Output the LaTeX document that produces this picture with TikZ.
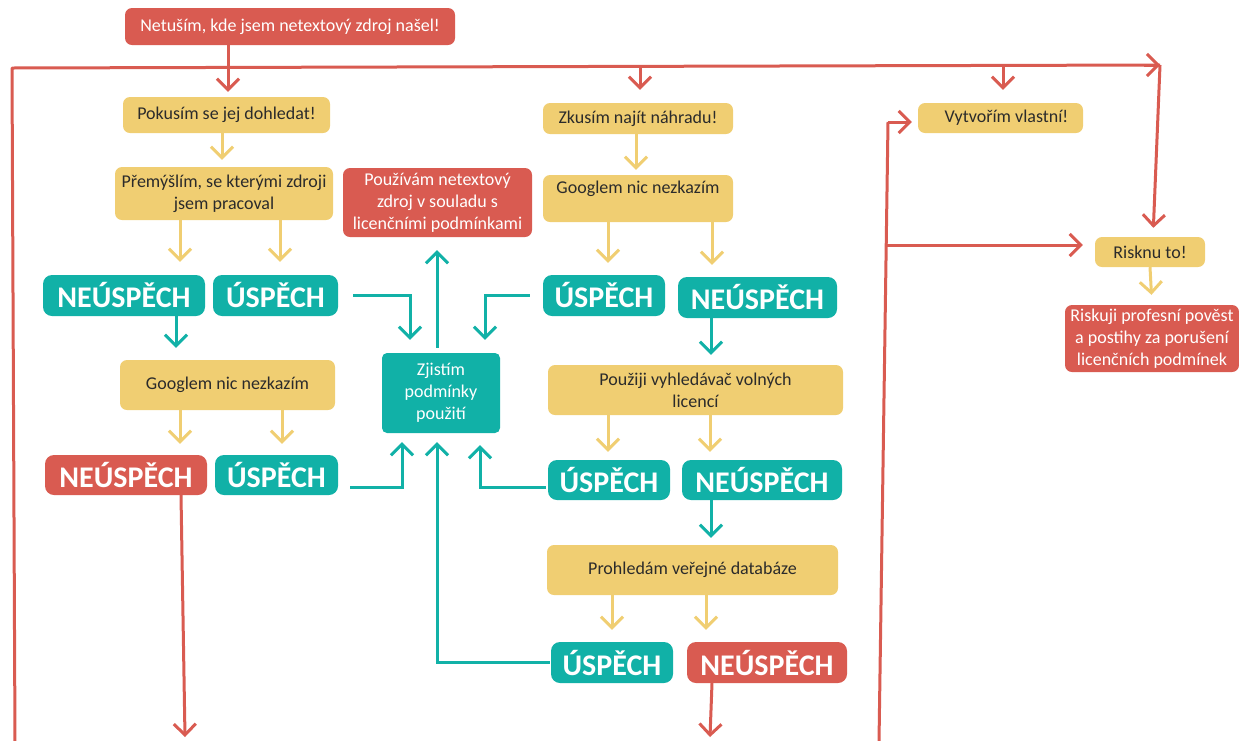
\documentclass[tikz,border=0pt]{standalone}
\usepackage{fontspec}
\setmainfont{Carlito}
\usetikzlibrary{arrows.meta,calc}
\definecolor{cr}{HTML}{D95B51}
\definecolor{cy}{HTML}{F0CE72}
\definecolor{ct}{HTML}{11B1A7}
\definecolor{ctx}{HTML}{2B2B2B}
\newcommand\bodyfont{\fontsize{18}{22}\selectfont}
\newcommand\labfont{\bfseries\fontsize{30}{32}\selectfont}
\tikzset{
  box/.style={rounded corners=7pt, inner sep=0pt, align=center, font=\bodyfont},
  ybox/.style={box, fill=cy, text=ctx},
  rbox/.style={box, fill=cr, text=white},
  tbox/.style={box, fill=ct, text=white},
  tlab/.style={rounded corners=9pt, inner sep=0pt, fill=ct, text=white, font=\labfont},
  rlab/.style={rounded corners=9pt, inner sep=0pt, fill=cr, text=white, font=\labfont},
  tipV/.style={-{Straight Barb[length=11pt,width=22pt]}},
  rline/.style={draw=cr, line width=3pt},
  rarr/.style={rline, tipV},
  yarr/.style={draw=cy, line width=3pt, tipV},
  tarr/.style={draw=ct, line width=3pt, tipV},
}
\begin{document}
\begin{tikzpicture}[x=1pt,y=-1pt]
\useasboundingbox (0,0) rectangle (1239,740);

% nodes
\node[rbox, minimum width=330, minimum height=37] (top) at (290,26.5) {Netuším, kde jsem netextový zdroj našel!};
\node[ybox, minimum width=207, minimum height=36] (pok) at (226.5,115) {Pokusím se jej dohledat!};
\node[ybox, minimum width=218, minimum height=53] (prem) at (224,193.5) {Přemýšlím, se kterými zdroji\\jsem pracoval};
\node[tlab, minimum width=162, minimum height=41] (neu1) at (124,295.5) {NEÚSPĚCH};
\node[tlab, minimum width=125, minimum height=41] (usp1) at (275.5,295.5) {ÚSPĚCH};
\node[ybox, minimum width=215, minimum height=50] (goo1) at (227.5,385) {Googlem nic nezkazím};
\node[rlab, minimum width=162, minimum height=40] (neu2) at (126,475) {NEÚSPĚCH};
\node[tlab, minimum width=123, minimum height=40] (usp2) at (276.5,475) {ÚSPĚCH};
\node[rbox, minimum width=189, minimum height=69] (pouz) at (437.5,202.5) {Používám netextový\\zdroj v souladu s\\licenčními podmínkami};
\node[tbox, minimum width=118, minimum height=80, rounded corners=5pt] (zji) at (441,393) {Zjistím\\podmínky\\použití};
\node[ybox, minimum width=190, minimum height=31] (zk) at (638,118.5) {Zkusím najít náhradu!};
\node[ybox, minimum width=190, minimum height=47] (goo2) at (638,198.5) {Googlem nic nezkazím\\\mbox{}};
\node[tlab, minimum width=122, minimum height=41] (usp3) at (604,295.5) {ÚSPĚCH};
\node[tlab, minimum width=159, minimum height=41] (neu3) at (757.5,297.5) {NEÚSPĚCH};
\node[ybox, minimum width=295, minimum height=50] (pvv) at (695.5,390) {Použiji vyhledávač volných\\licencí};
\node[tlab, minimum width=122, minimum height=40] (usp4) at (609,480) {ÚSPĚCH};
\node[tlab, minimum width=160, minimum height=40] (neu4) at (762,480) {NEÚSPĚCH};
\node[ybox, minimum width=291, minimum height=50] (proh) at (692.5,570) {Prohledám veřejné databáze};
\node[tlab, minimum width=122, minimum height=41] (usp5) at (612,662.5) {ÚSPĚCH};
\node[rlab, minimum width=160, minimum height=41] (neu5) at (767,662.5) {NEÚSPĚCH};
\node[ybox, minimum width=165, minimum height=30] (vyt) at (1000.5,118) {\hspace*{12pt}Vytvořím vlastní!};
\node[ybox, minimum width=110, minimum height=30] (ris) at (1150,252) {Risknu to!};
\node[rbox, minimum width=174, minimum height=67] (risk) at (1152,338.5) {Riskuji profesní pověst\\a postihy za porušení\\licenčních podmínek};

% frame coordinates
\coordinate (fBL) at (15,742);
\coordinate (fTL) at (12,68);
\coordinate (fTR) at (1160,65);
\coordinate (d2) at (640,67);
\coordinate (d3) at (1003,66);
\coordinate (vB) at (879,742);
\coordinate (vT) at (888,122);
\coordinate (vM) at (887,245);
\coordinate (e1) at (185,737);
\coordinate (e2) at (710,737);

% red connectors
\draw[rline, line join=round] (fBL) -- (fTL) -- (fTR);
\draw[rarr, line join=round] ($(fTR)+(-16,0)$) -- (fTR);
\draw[rarr, shorten >=9pt] (fTR) -- (ris.north -| 1153,0);
\draw[rarr, shorten >=5pt] (top.south -| 228,0) -- (pok.north -| 228,0);
\draw[rarr, shorten >=13pt] (d2) -- (zk.north -| d2);
\draw[rarr, shorten >=13pt] (d3) -- (vyt.north -| d3);
\draw[rline] (vB) -- (vT);
\draw[rarr, shorten >=6pt] (vT) -- (vT -| vyt.west);
\draw[rarr, shorten >=12pt] (vM) -- (vM -| ris.west);
\draw[rarr] (neu2.south -| 181,0) -- (e1);
\draw[rarr] (neu5.south -| 712,0) -- (e2);

% yellow connectors
\draw[yarr, shorten >=7pt] (pok.south -| 222,0) -- (prem.north -| 222,0);
\draw[yarr, shorten >=13pt] (prem.south -| 180,0) -- (neu1.north -| 180,0);
\draw[yarr, shorten >=13pt] (prem.south -| 280,0) -- (usp1.north -| 280,0);
\draw[yarr, shorten >=11pt] (goo1.south -| 180,0) -- (neu2.north -| 180,0);
\draw[yarr, shorten >=11pt] (goo1.south -| 282,0) -- (usp2.north -| 282,0);
\draw[yarr, shorten >=5pt] (zk.south -| 636,0) -- (goo2.north -| 636,0);
\draw[yarr, shorten >=12pt] (goo2.south -| 608,0) -- (usp3.north -| 608,0);
\draw[yarr, shorten >=12pt] (goo2.south -| 712,0) -- (neu3.north -| 712,0);
\draw[yarr, shorten >=8pt] (pvv.south -| 608,0) -- (usp4.north -| 608,0);
\draw[yarr, shorten >=8pt] (pvv.south -| 710,0) -- (neu4.north -| 710,0);
\draw[yarr, shorten >=12pt] (proh.south -| 612,0) -- (usp5.north -| 612,0);
\draw[yarr, shorten >=12pt] (proh.south -| 706,0) -- (neu5.north -| 706,0);
\draw[yarr, shorten >=10pt] (ris.south) -- (risk.north);

% teal connectors
\draw[tarr, shorten >=12pt] (neu1.south -| 176,0) -- (goo1.north -| 176,0);
\draw[tarr, shorten >=10pt] (neu3.south -| 711,0) -- (pvv.north -| 711,0);
\draw[tarr, shorten >=7pt] (neu4.south -| 711,0) -- (proh.north -| 711,0);
\draw[tarr, shorten <=15pt, shorten >=13pt] (usp1.east) -| (zji.north -| 410,0);
\draw[tarr, shorten <=13pt, shorten >=13pt] (usp3.west) -| (zji.north -| 485,0);
\draw[tarr, shorten <=12pt, shorten >=9pt] ([yshift=-12pt]usp2.east) -| (zji.south -| 402,0);
\draw[tarr, shorten <=2pt, shorten >=12pt] ([yshift=-7pt]usp4.west) -| (zji.south -| 480,0);
\draw[tarr, shorten <=1pt, shorten >=9pt] (usp5.west) -| (zji.south -| 437,0);
\draw[tarr, shorten <=5pt, shorten >=13pt] (zji.north -| 437,0) -- (pouz.south -| 437,0);
\end{tikzpicture}
\end{document}
